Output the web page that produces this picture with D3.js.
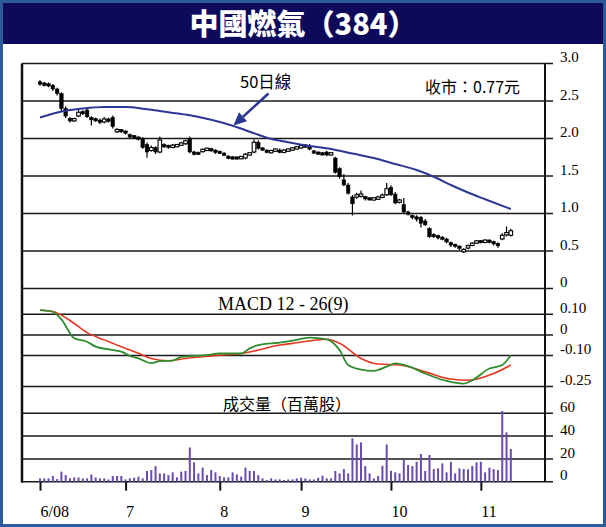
<!DOCTYPE html>
<html><head><meta charset="utf-8">
<script src="https://cdn.jsdelivr.net/npm/d3@7"></script>
<style>
html,body{margin:0;padding:0;background:#fff;}
svg{display:block;}
</style></head>
<body>
<svg id="c" width="606" height="527"></svg>
<script>
// ---------- DATA ----------
const titleText = "中國燃氣（384）";
const closeNote = "收市：0.77元";
const maLabel = "50日線";
const macdLabel = "MACD 12 - 26(9)";
const volLabel = "成交量（百萬股）";

const monthLabels = ["6/08", "7", "8", "9", "10", "11"];
const monthTickDays = [0, 20, 42, 61, 82, 103];

const priceTicks = [0, 0.5, 1.0, 1.5, 2.0, 2.5, 3.0];
const priceTickLabels = ["0", "0.5", "1.0", "1.5", "2.0", "2.5", "3.0"];
const macdTicks = [0.10, 0, -0.10, -0.25];
const macdTickLabels = ["0.10", "0", "-0.10", "-0.25"];
const volTicks = [0, 20, 40, 60];
const volTickLabels = ["0", "20", "40", "60"];

const open = [2.75,2.73,2.72,2.71,2.66,2.60,2.40,2.26,2.24,2.30,2.35,2.38,2.27,2.25,2.24,2.22,2.25,2.28,2.09,2.11,
2.09,2.04,2.03,2.01,2.00,1.92,1.84,1.88,1.82,1.91,1.90,1.89,1.90,1.92,1.93,2.00,1.81,1.80,1.83,1.85,
1.86,1.84,1.82,1.80,1.76,1.74,1.74,1.74,1.74,1.79,1.82,1.95,1.87,1.84,1.82,1.84,1.84,1.82,1.84,1.85,
1.87,1.88,1.90,1.89,1.83,1.81,1.80,1.82,1.79,1.74,1.60,1.45,1.38,1.22,1.22,1.23,1.22,1.20,1.19,1.20,
1.22,1.25,1.35,1.26,1.16,1.12,1.01,0.97,0.95,0.95,0.90,0.80,0.71,0.70,0.68,0.66,0.61,0.58,0.56,0.50,
0.54,0.58,0.61,0.63,0.62,0.64,0.62,0.60,0.66,0.72,0.71];
const high = [2.77,2.75,2.74,2.72,2.67,2.61,2.42,2.28,2.27,2.40,2.37,2.39,2.29,2.27,2.26,2.28,2.27,2.30,2.13,2.12,
2.10,2.06,2.04,2.02,2.01,1.94,1.90,1.89,2.02,1.93,1.91,1.92,1.92,1.95,1.98,2.02,1.83,1.82,1.86,1.87,
1.87,1.85,1.83,1.81,1.77,1.76,1.75,1.76,1.80,1.81,1.98,1.97,1.88,1.85,1.84,1.86,1.86,1.85,1.86,1.88,
1.89,1.92,1.91,1.92,1.84,1.82,1.81,1.83,1.81,1.75,1.61,1.52,1.40,1.24,1.27,1.30,1.23,1.21,1.21,1.23,
1.26,1.40,1.37,1.28,1.19,1.20,1.03,0.98,0.97,0.96,0.92,0.81,0.73,0.71,0.69,0.67,0.62,0.59,0.57,0.53,
0.58,0.61,0.64,0.64,0.65,0.65,0.63,0.61,0.73,0.82,0.79];
const low = [2.71,2.70,2.69,2.64,2.58,2.36,2.28,2.22,2.23,2.29,2.32,2.28,2.18,2.23,2.20,2.21,2.22,2.14,2.08,2.08,
2.06,2.01,2.00,1.98,1.87,1.75,1.83,1.80,1.81,1.88,1.87,1.88,1.89,1.91,1.92,1.81,1.78,1.79,1.82,1.84,
1.83,1.80,1.80,1.77,1.73,1.73,1.73,1.73,1.73,1.78,1.81,1.86,1.84,1.81,1.81,1.83,1.81,1.81,1.83,1.84,
1.86,1.87,1.88,1.85,1.80,1.79,1.78,1.77,1.78,1.54,1.47,1.37,1.26,0.98,1.20,1.22,1.18,1.18,1.18,1.19,
1.21,1.24,1.24,1.13,1.14,1.01,0.98,0.93,0.90,0.82,0.84,0.68,0.68,0.66,0.65,0.61,0.56,0.55,0.52,0.48,
0.53,0.57,0.60,0.61,0.61,0.61,0.58,0.55,0.65,0.70,0.70];
const close = [2.73,2.72,2.71,2.66,2.60,2.40,2.30,2.24,2.26,2.35,2.34,2.29,2.26,2.25,2.22,2.26,2.24,2.16,2.12,2.10,
2.08,2.03,2.02,2.00,1.88,1.82,1.88,1.82,1.98,1.90,1.89,1.90,1.91,1.93,1.97,1.82,1.80,1.80,1.85,1.86,
1.84,1.82,1.81,1.78,1.74,1.74,1.74,1.75,1.79,1.80,1.95,1.87,1.85,1.82,1.83,1.85,1.82,1.84,1.85,1.87,
1.88,1.90,1.90,1.86,1.81,1.80,1.79,1.78,1.80,1.55,1.49,1.38,1.27,1.13,1.25,1.26,1.20,1.19,1.20,1.21,
1.24,1.33,1.25,1.14,1.17,1.02,1.00,0.95,0.93,0.87,0.85,0.69,0.70,0.68,0.66,0.62,0.58,0.57,0.54,0.51,
0.57,0.60,0.63,0.62,0.64,0.62,0.60,0.57,0.71,0.74,0.77];

const volume = [2.9,2.9,2.9,5,2.3,8.8,5.8,2.9,3.8,3.8,2.9,2.9,6.4,3.8,2.9,2.9,2,5,5,5,
2,2.9,3.5,4.4,2.9,9.4,10.2,13.7,7.3,7.3,5.8,8.2,3.8,8.8,9.4,30,17,7.3,12.3,5.8,
10.2,8.2,5,3.8,3.8,8.2,6.4,4.4,12.3,9.6,9.4,5.8,2.9,1.5,2.9,2,2,1.5,2,
2,2.9,3.5,2.9,2,2,3.5,5.3,2.9,2.9,9.4,7.3,11.1,7.3,38,32.7,34.5,13.7,7.3,2.9,
5,14,32.7,9.6,8.2,7.3,19,14.6,13.7,17.5,24.3,9.4,23.4,11.1,11.7,16.1,8.2,17.5,7.3,11.7,
11.1,10.8,13.7,17,17.5,8.2,12.3,11.1,10.2,62,43.3,28.7];

const maDays  = [0,5,10,15,20,25,30,35,40,45,50,53,58,63,68,73,78,83,88,92,96,100,104,110];
const ma50    = [2.28,2.36,2.40,2.42,2.42,2.39,2.35,2.31,2.25,2.17,2.07,2.01,1.95,1.90,1.86,1.80,1.74,1.66,1.58,1.49,1.38,1.28,1.19,1.06];

const macdDays = [0,3,5,8,11,13,16,19,21,23,26,28,31,33,39,42,47,49,51,56,59,63,67,70,72,75,78,81,83,86,90,95,99,101,105,108,110];
const macdLine = [0.12,0.112,0.075,-0.016,-0.033,-0.057,-0.07,-0.081,-0.102,-0.114,-0.137,-0.127,-0.125,-0.106,-0.098,-0.09,-0.09,-0.065,-0.049,-0.037,-0.028,-0.013,-0.021,-0.073,-0.146,-0.168,-0.174,-0.154,-0.138,-0.151,-0.187,-0.223,-0.236,-0.22,-0.163,-0.146,-0.098];
const signalDays = [0,3,7,11,15,19,23,26,30,34,38,42,46,50,56,59,67,70,75,79,84,90,96,100,106,110];
const signalLine = [0.12,0.114,0.07,0.011,-0.024,-0.057,-0.089,-0.114,-0.125,-0.114,-0.106,-0.098,-0.094,-0.078,-0.049,-0.041,-0.021,-0.04,-0.114,-0.141,-0.146,-0.179,-0.214,-0.22,-0.187,-0.146];

// ---------- LAYOUT ----------
const svg = d3.select("#c");
const W = 606, H = 527;
const left = 22, right = 553, axisX = 545;
const x = d3.scaleLinear().domain([0, 110]).range([40, 510.8]);
const yP = d3.scaleLinear().domain([0, 3]).range([288.5, 63.5]);
const yM = d3.scaleLinear().domain([-0.25, 0.10]).range([386.5, 314.3]);
const yV = d3.scaleLinear().domain([0, 60]).range([481.7, 413.3]);

const serif = "'Liberation Serif','Times New Roman',serif";
const cjk = "'Noto Sans CJK TC','Noto Sans CJK SC',sans-serif";

svg.append("rect").attr("width", W).attr("height", H).attr("fill", "#fff");
svg.append("rect").attr("x", 0).attr("y", 0).attr("width", W).attr("height", 44).attr("fill", "#0d0a5c");
svg.append("rect").attr("x", 1.5).attr("y", 1.5).attr("width", W - 3).attr("height", H - 3)
  .attr("fill", "none").attr("stroke", "#2c5a9a").attr("stroke-width", 3);
svg.append("text").attr("x", 303).attr("y", 35).attr("text-anchor", "middle")
  .attr("fill", "#fff").attr("font-family", cjk).attr("font-weight", 900).attr("font-size", 29)
  .text(titleText);

// gridlines
const grid = svg.append("g").attr("stroke", "#1a1a1a").attr("stroke-width", 1.5);
function gridLines(scale, ticks) {
  grid.selectAll(null).data(ticks).enter().append("line")
    .attr("x1", left).attr("x2", right)
    .attr("y1", d => scale(d)).attr("y2", d => scale(d));
}
gridLines(yP, priceTicks);
gridLines(yM, macdTicks);
gridLines(yV, volTicks);
svg.append("line").attr("x1", left).attr("x2", left).attr("y1", yP(3)).attr("y2", yV(0) + 1)
  .attr("stroke", "#111").attr("stroke-width", 2.5);

// right axes
function rightAxis(scale, ticks, labels) {
  const ax = d3.axisRight(scale).tickValues(ticks).tickSize(0).tickPadding(15)
    .tickFormat((d, i) => labels[i]);
  const g = svg.append("g").attr("transform", `translate(${axisX},0)`).call(ax);
  g.select(".domain").remove();
  g.selectAll("text").attr("font-family", serif).attr("font-size", 15).attr("fill", "#000").attr("dy", "-0.12em");
}
rightAxis(yP, priceTicks, priceTickLabels);
rightAxis(yM, macdTicks, macdTickLabels);
rightAxis(yV, volTicks, volTickLabels);
svg.append("line").attr("x1", axisX).attr("x2", axisX).attr("y1", yP(3)).attr("y2", yV(0))
  .attr("stroke", "#111").attr("stroke-width", 2);

// x axis ticks
const xa = d3.axisBottom(x).tickValues(monthTickDays).tickSize(9).tickPadding(15)
  .tickFormat((d, i) => monthLabels[i]);
const gx = svg.append("g").attr("transform", `translate(0,${yV(0)})`).call(xa);
gx.select(".domain").remove();
gx.selectAll("line").attr("stroke", "#111").attr("stroke-width", 2);
gx.selectAll("text").attr("font-family", serif).attr("font-size", 16).attr("fill", "#000")
  .attr("text-anchor", "start").attr("dy", "0.71em");

// ---------- PRICE PANEL ----------
const days = d3.range(close.length);
const cg = svg.append("g");
cg.selectAll(".wick").data(days).enter().append("line")
  .attr("x1", i => x(i)).attr("x2", i => x(i))
  .attr("y1", i => yP(high[i]) - 0.5).attr("y2", i => yP(low[i]) + 0.5)
  .attr("stroke", "#000").attr("stroke-width", 1.2);
cg.selectAll(".body").data(days).enter().append("rect")
  .attr("x", i => x(i) - 1.8).attr("width", 3.6)
  .attr("y", i => {
    const h = Math.abs(yP(open[i]) - yP(close[i]));
    return yP(Math.max(open[i], close[i])) - Math.max(0, (2.4 - h) / 2);
  })
  .attr("height", i => Math.max(2.4, Math.abs(yP(open[i]) - yP(close[i]))))
  .attr("fill", i => close[i] > open[i] ? "#fff" : "#000")
  .attr("stroke", "#000").attr("stroke-width", i => close[i] > open[i] ? 1.1 : 0.5);

const maLine = d3.line().x((d, i) => x(maDays[i])).y(d => yP(d)).curve(d3.curveMonotoneX);
svg.append("path").attr("d", maLine(ma50)).attr("fill", "none")
  .attr("stroke", "#2a3894").attr("stroke-width", 2);

// annotations
svg.append("text").attr("x", 240).attr("y", 88).attr("font-family", cjk).attr("font-size", 16.5)
  .attr("fill", "#000").text(maLabel);
svg.append("text").attr("x", 425).attr("y", 93).attr("font-family", cjk).attr("font-size", 16)
  .attr("fill", "#000").text(closeNote);
const tip = [x(45.2), yP(2.16) - 1];
const tail = [tip[0] + 35, tip[1] - 32];
const ang = Math.atan2(tip[1] - tail[1], tip[0] - tail[0]);
const hl = 13, hw = 6;
const base = [tip[0] - hl * Math.cos(ang), tip[1] - hl * Math.sin(ang)];
svg.append("line").attr("x1", tail[0]).attr("y1", tail[1]).attr("x2", base[0]).attr("y2", base[1])
  .attr("stroke", "#2a3894").attr("stroke-width", 2.5);
svg.append("path").attr("d", d3.line()([
  tip,
  [base[0] + hw * Math.sin(ang), base[1] - hw * Math.cos(ang)],
  [base[0] - hw * Math.sin(ang), base[1] + hw * Math.cos(ang)]
]) + "Z").attr("fill", "#2a3894");

// ---------- MACD PANEL ----------
svg.append("text").attr("x", 218).attr("y", 310).attr("font-family", serif).attr("font-size", 18)
  .attr("fill", "#000").text(macdLabel);
const sigPath = d3.line().x((d, i) => x(signalDays[i])).y(d => yM(d)).curve(d3.curveMonotoneX);
const macdPath = d3.line().x((d, i) => x(macdDays[i])).y(d => yM(d)).curve(d3.curveMonotoneX);
svg.append("path").attr("d", sigPath(signalLine)).attr("fill", "none")
  .attr("stroke", "#e8361e").attr("stroke-width", 1.6);
svg.append("path").attr("d", macdPath(macdLine)).attr("fill", "none")
  .attr("stroke", "#2f8c2f").attr("stroke-width", 1.8);

// ---------- VOLUME PANEL ----------
svg.append("text").attr("x", 223).attr("y", 410).attr("font-family", cjk).attr("font-size", 16)
  .attr("fill", "#000").text(volLabel);
svg.append("g").selectAll("rect").data(days).enter().append("rect")
  .attr("x", i => x(i) - 1).attr("width", 2)
  .attr("y", i => yV(volume[i])).attr("height", i => yV(0) - yV(volume[i]))
  .attr("fill", "#6a4cb0");
</script>
</body></html>
